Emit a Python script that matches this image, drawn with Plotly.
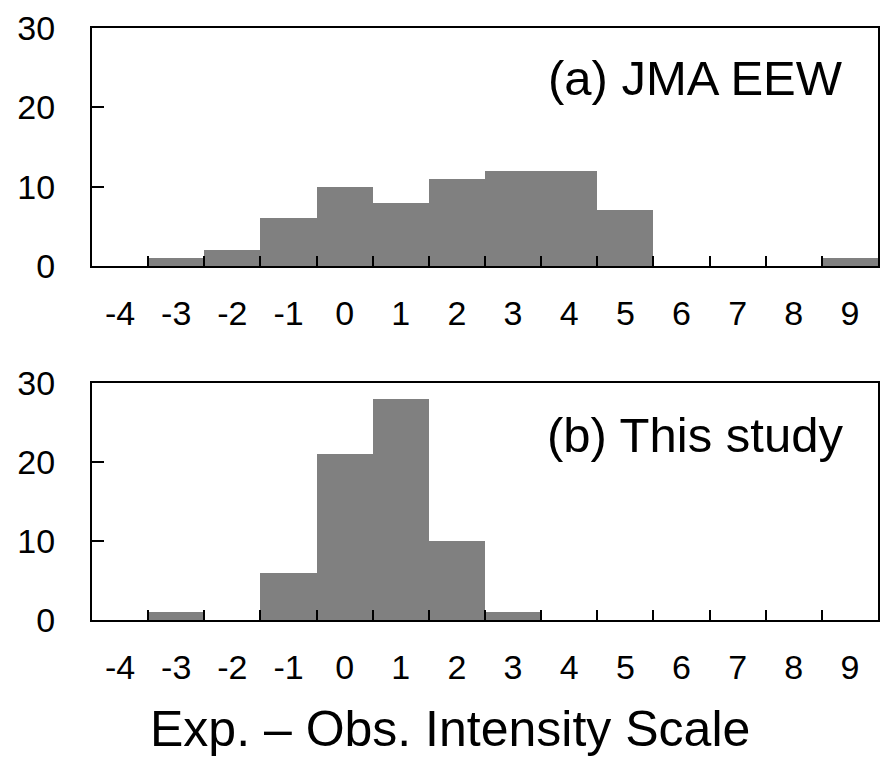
import plotly.graph_objects as go

categories = ["-4", "-3", "-2", "-1", "0", "1", "2", "3", "4", "5", "6", "7", "8", "9"]
jma_counts = [0, 1, 2, 6, 10, 8, 11, 12, 12, 7, 0, 0, 0, 1]
study_counts = [0, 1, 0, 6, 21, 28, 10, 1, 0, 0, 0, 0, 0, 0]
y_ticks = [0, 10, 20, 30]
panel_labels = ["(a) JMA EEW", "(b) This study"]
x_title = "Exp. \u2013 Obs. Intensity Scale"

W, H = 881, 764
FONT = "Liberation Sans, Arial, sans-serif"
BAR = "#808080"

fig = go.Figure()
fig.add_trace(go.Bar(x=categories, y=jma_counts, marker=dict(color=BAR, line=dict(width=0)),
                     xaxis="x", yaxis="y", showlegend=False))
fig.add_trace(go.Bar(x=categories, y=study_counts, marker=dict(color=BAR, line=dict(width=0)),
                     xaxis="x2", yaxis="y2", showlegend=False))

xdom = [92 / W, 878 / W]
top_dom = [(H - 266) / H, (H - 28) / H]
bot_dom = [(H - 620) / H, (H - 383) / H]

def xax(anchor):
    return dict(type="category", categoryorder="array", categoryarray=categories,
                domain=xdom, anchor=anchor, range=[-0.5, 13.5], automargin=False,
                tickson="boundaries", ticks="inside", ticklen=10, tickwidth=2, tickcolor="black",
                showline=True, linewidth=2, linecolor="black", mirror=True,
                showgrid=False, zeroline=False,
                tickfont=dict(family=FONT, size=34, color="black"), ticklabelstandoff=16)

def yax(anchor, dom):
    return dict(domain=dom, anchor=anchor, range=[0, 30], tickvals=y_ticks, automargin=False,
                ticks="inside", ticklen=12, tickwidth=2, tickcolor="black",
                showline=True, linewidth=2, linecolor="black", mirror=True,
                showgrid=False, zeroline=False,
                tickfont=dict(family=FONT, size=34, color="black"), ticklabelstandoff=28)

fig.update_layout(
    width=W, height=H, margin=dict(l=0, r=0, t=0, b=0),
    paper_bgcolor="white", plot_bgcolor="white", bargap=0,
    xaxis=xax("y"), yaxis=yax("x", top_dom),
    xaxis2=xax("y2"), yaxis2=yax("x2", bot_dom),
    annotations=[
        dict(text=panel_labels[0], xref="paper", yref="paper", x=845 / W, y=(H - 78) / H,
             xanchor="right", yanchor="middle", showarrow=False,
             font=dict(family=FONT, size=49, color="black")),
        dict(text=panel_labels[1], xref="paper", yref="paper", x=845 / W, y=(H - 435) / H,
             xanchor="right", yanchor="middle", showarrow=False,
             font=dict(family=FONT, size=49, color="black")),
        dict(text=x_title, xref="paper", yref="paper", x=450 / W, y=(H - 729) / H,
             xanchor="center", yanchor="middle", showarrow=False,
             font=dict(family=FONT, size=50, color="black")),
    ],
)

fig.write_html("out.html")
